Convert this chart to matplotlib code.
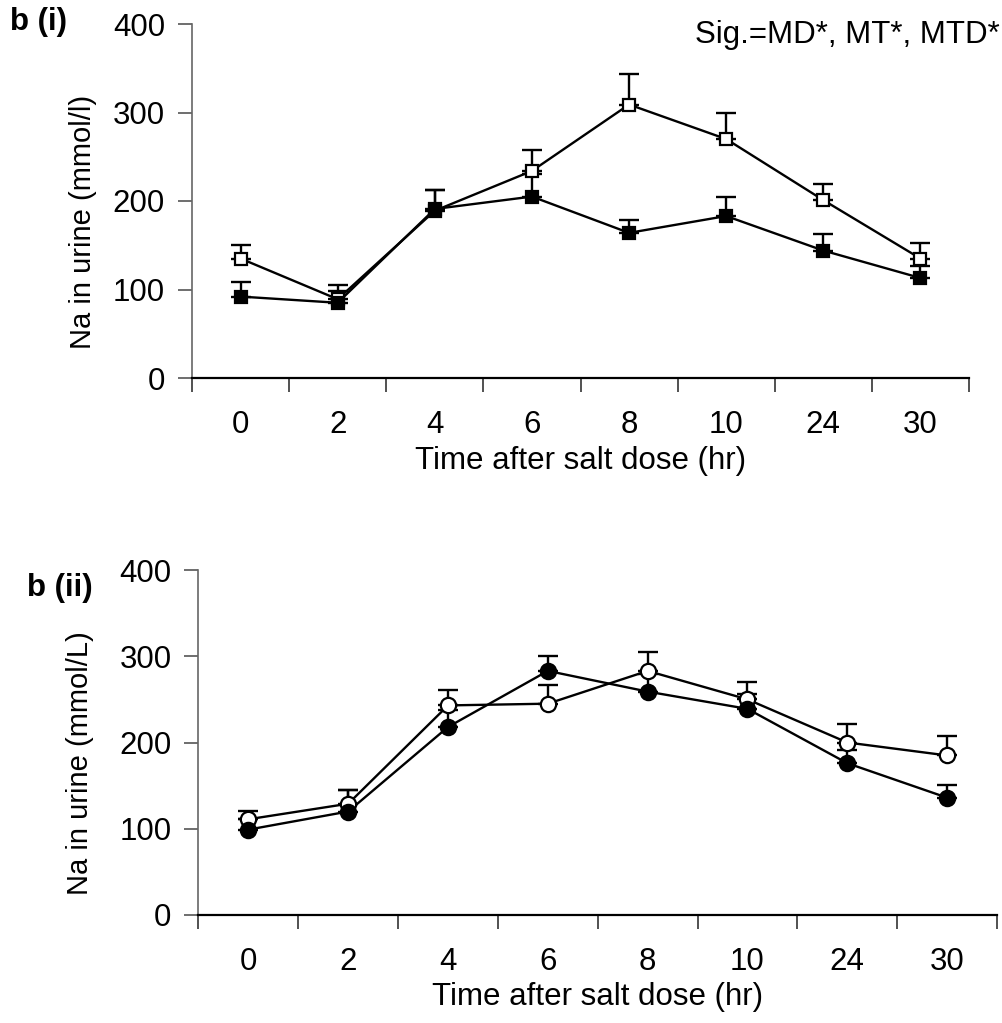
import numpy as np
import matplotlib
matplotlib.use('Agg')
import matplotlib.pyplot as plt

plt.rcParams['font.family'] = ['Liberation Sans', 'DejaVu Sans']

# data
times = ['0', '2', '4', '6', '8', '10', '24', '30']

# panel b(i): squares
top_open = [135, 89, 189, 234, 309, 270, 201, 135]
top_open_err = [15, 16, 23, 24, 34, 29, 18, 17]
top_filled = [92, 85, 191, 205, 164, 183, 144, 113]
top_filled_err = [17, 13, 21, 26, 15, 21, 19, 14]

# panel b(ii): circles
bot_open = [111, 129, 243, 245, 283, 250, 200, 185]
bot_open_err = [10, 16, 18, 22, 22, 20, 21, 22]
bot_filled = [99, 120, 218, 283, 259, 239, 176, 136]
bot_filled_err = [12, 25, 20, 17, 20, 17, 15, 15]

FS = 22.5
FS_Y = 21
W, H = 1003, 1023
fig = plt.figure(figsize=(W / 100, H / 100), dpi=100)


def axes_px(x0, x1, y_top, y_bot):
    return fig.add_axes([x0 / W, 1 - y_bot / H, (x1 - x0) / W, (y_bot - y_top) / H])


def style_axes(ax, ylabel, ylab_x):
    n = len(times)
    ax.set_xlim(-0.5, n - 0.5)
    ax.set_ylim(0, 400)
    ax.set_yticks([0, 100, 200, 300, 400])
    ax.set_xticks(np.arange(n + 1) - 0.5)
    ax.set_xticklabels([])
    ax.set_xticks(np.arange(n), minor=True)
    ax.set_xticklabels(times, minor=True)
    ax.tick_params(axis='x', which='minor', length=0, pad=23, labelsize=FS)
    ax.tick_params(axis='x', which='major', length=10, width=1.2, direction='out', color='#333333')
    ax.tick_params(axis='y', length=10, width=1.2, direction='out', pad=9.5, labelsize=FS, color='#555555')
    for s in ['top', 'right']:
        ax.spines[s].set_visible(False)
    ax.spines['left'].set_color('#666666')
    ax.spines['left'].set_linewidth(1.2)
    ax.spines['bottom'].set_linewidth(1.6)
    ax.set_xlabel('Time after salt dose (hr)', fontsize=FS, labelpad=4)
    ax.text(ylab_x, 0.44, ylabel, transform=ax.transAxes, rotation=90,
            ha='center', va='center', fontsize=FS_Y)


def draw_series(ax, vals, errs, marker, face, ms, z):
    x = np.arange(len(vals))
    ax.errorbar(x, vals, yerr=[np.zeros(len(errs)), errs], fmt='none', ecolor='black',
                elinewidth=1.7, capsize=7.5, capthick=1.7, zorder=2)
    ax.plot(x, vals, color='black', lw=1.7, zorder=3)
    ax.plot(x, vals, ls='none', marker=marker, ms=ms, mfc=face, mec='black', mew=1.6, zorder=z)


ax1 = axes_px(192, 969, 24, 378)
draw_series(ax1, top_open, top_open_err, 's', 'white', 8, 4)
draw_series(ax1, top_filled, top_filled_err, 's', 'black', 8, 5)
style_axes(ax1, 'Na in urine (mmol/l)', (83 - 192) / 777)
ax1.text(1.04, 0.97, 'Sig.=MD*, MT*, MTD*', transform=ax1.transAxes,
         ha='right', va='center', fontsize=FS)

ax2 = axes_px(198.5, 997, 570, 915)
draw_series(ax2, bot_open, bot_open_err, 'o', 'white', 11, 4)
draw_series(ax2, bot_filled, bot_filled_err, 'o', 'black', 11, 5)
style_axes(ax2, 'Na in urine (mmol/L)', (80 - 198.5) / 798.5)

fig.text(10 / W, 1 - 22 / H, 'b (i)', fontsize=FS, fontweight='bold', ha='left', va='center')
fig.text(27 / W, 1 - 588 / H, 'b (ii)', fontsize=FS, fontweight='bold', ha='left', va='center')

fig.savefig('out.png', dpi=100)
